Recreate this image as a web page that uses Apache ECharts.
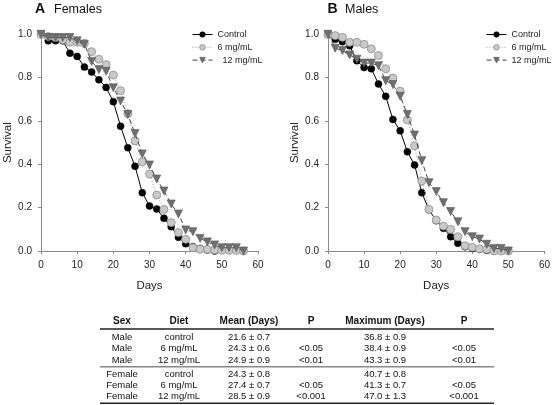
<!DOCTYPE html>
<html>
<head>
<meta charset="utf-8">
<script src="https://cdn.jsdelivr.net/npm/echarts@6/dist/echarts.min.js"></script>
<style>html,body{margin:0;padding:0;background:#fff}#c{width:553px;height:405px}</style>
</head>
<body>
<div id="c"></div>
<script>
// ---------- data ----------
const days = [0,2,4,6,8,10,12,14,16,18,20,22,24,26,28,30,32,34,36,38,40,42,44,46,48,50,52,54,56];
const seriesNames = ['Control','6 mg/mL','12 mg/mL'];
const xTicks = [0,10,20,30,40,50,60];
const yTicks = [0,0.2,0.4,0.6,0.8,1.0];

const femaleControl = [1.0,0.97,0.97,0.97,0.913,0.898,0.849,0.826,0.79,0.755,0.689,0.576,0.477,0.391,0.269,0.208,0.194,0.151,0.112,0.063,0.034,0.02,0.012,0.005,0.0];
const female6 = [1.0,0.99,0.985,0.975,0.963,0.963,0.958,0.92,0.885,0.86,0.812,0.74,0.634,0.508,0.411,0.355,0.258,0.192,0.131,0.085,0.054,0.015,0.008,0.008,0.005,0.003,0.003,0.003,0.0];
const female12 = [1.0,0.985,0.985,0.985,0.985,0.97,0.954,0.875,0.837,0.829,0.753,0.692,0.63,0.542,0.448,0.397,0.332,0.277,0.217,0.171,0.097,0.089,0.058,0.042,0.028,0.015,0.015,0.015,0.0];

const maleControl = [1.0,0.977,0.966,0.947,0.878,0.847,0.841,0.771,0.714,0.607,0.555,0.458,0.397,0.269,0.19,0.14,0.105,0.066,0.036,0.02,0.012,0.008,0.003,0.0];
const male6 = [1.0,0.994,0.986,0.963,0.963,0.954,0.933,0.902,0.841,0.798,0.737,0.605,0.485,0.323,0.192,0.143,0.115,0.10,0.066,0.024,0.017,0.01,0.008,0.0,0.0,0.0];
const male12 = [1.0,0.936,0.925,0.905,0.885,0.867,0.867,0.855,0.786,0.768,0.714,0.63,0.535,0.417,0.315,0.274,0.223,0.182,0.135,0.089,0.066,0.055,0.031,0.012,0.012,0.0];

const tableHeader = ['Sex','Diet','Mean (Days)','P','Maximum (Days)','P'];
const tableSex = ['Male','Male','Male','Female','Female','Female'];
const tableDiet = ['control','6 mg/mL','12 mg/mL','control','6 mg/mL','12 mg/mL'];
const tableMean = ['21.6 \u00b1 0.7','24.3 \u00b1 0.6','24.9 \u00b1 0.9','24.3 \u00b1 0.8','27.4 \u00b1 0.7','28.5 \u00b1 0.9'];
const tableP1 = ['','<0.05','<0.01','','<0.05','<0.001'];
const tableMax = ['36.8 \u00b1 0.9','38.4 \u00b1 0.9','43.3 \u00b1 0.9','40.7 \u00b1 0.8','41.3 \u00b1 0.7','47.0 \u00b1 1.3'];
const tableP2 = ['','<0.05','<0.01','','<0.05','<0.001'];

// ---------- layout / style ----------
const FONT = "'Liberation Sans', Arial, sans-serif";
const AX = '#8a8a8a';
const grids = [
  {left: 41, top: 34.3, width: 217, height: 216.7},
  {left: 328, top: 34.3, width: 217, height: 216.7}
];
const styles = [
  {symbol:'circle', symbolSize:7, rot:0, itemStyle:{color:'#000', borderColor:'#000', borderWidth:0.5}, lineStyle:{color:'#000', width:1, type:'solid'}},
  {symbol:'circle', symbolSize:8, rot:0, itemStyle:{color:'#c9c9c9', borderColor:'#8e8e8e', borderWidth:0.8}, lineStyle:{color:'#9a9a9a', width:1, type:[1,2]}},
  {symbol:'triangle', symbolSize:8, rot:180, itemStyle:{color:'#6f6f6f', borderColor:'#555', borderWidth:0.6}, lineStyle:{color:'#444', width:1, type:[5,3]}}
];

function pairs(vals){ return vals.map((v,i)=>[days[i], v]); }
function mkSeries(idx, vals, gi){
  const s = styles[idx];
  return {
    name: seriesNames[idx], type:'line', xAxisIndex:gi, yAxisIndex:gi,
    data: pairs(vals), symbol:s.symbol, symbolSize:s.symbolSize, symbolRotate:s.rot,
    showSymbol:true, itemStyle:s.itemStyle, lineStyle:s.lineStyle, animation:false, z: 2+idx
  };
}

function xAx(gi){
  return {
    gridIndex:gi, type:'value', min:0, max:60, interval:10,
    name:'Days', nameLocation:'middle', nameGap:29,
    nameTextStyle:{fontFamily:FONT, fontSize:11.5, color:'#222'},
    axisLine:{show:true, onZero:false, lineStyle:{color:AX, width:1}},
    axisTick:{show:true, length:3, lineStyle:{color:AX}},
    axisLabel:{fontFamily:FONT, fontSize:10, color:'#222', margin:9},
    splitLine:{show:false}
  };
}
function yAx(gi){
  return {
    gridIndex:gi, type:'value', min:0, max:1, interval:0.2,
    name:'Survival', nameLocation:'middle', nameGap:25, nameRotate:90,
    nameTextStyle:{fontFamily:FONT, fontSize:11.5, color:'#222'},
    axisLine:{show:true, lineStyle:{color:AX, width:1}},
    axisTick:{show:true, length:3, lineStyle:{color:AX}},
    axisLabel:{fontFamily:FONT, fontSize:10, color:'#222', margin:9, formatter:v=>v.toFixed(1)},
    splitLine:{show:false}
  };
}

function legend(left, fmt){
  return {
    show:true, orient:'vertical', left:left, top:25, itemWidth:20, itemHeight:7, itemGap:3.8,
    data: seriesNames.map((n,i)=>({
      name:n,
      lineStyle:{width:1, type:styles[i].lineStyle.type, color:styles[i].lineStyle.color},
      itemStyle:styles[i].itemStyle
    })),
    lineStyle:{width:1},
    textStyle:{fontFamily:FONT, fontSize:9, color:'#222'},
    formatter: fmt, selectedMode:false
  };
}

// ---------- table graphics ----------
const colX = [122, 179, 249, 311, 385, 464];
const headY = 321.7;
const rowY = [337.3, 348.3, 360, 374, 385.7, 396.7];
const tableGraphics = [];
tableHeader.forEach((h,i)=>{
  tableGraphics.push({type:'text', x:colX[i], y:headY, style:{text:h, font:"bold 10px "+FONT, fill:'#111', textAlign:'center', textVerticalAlign:'middle'}});
});
const cols = [tableSex, tableDiet, tableMean, tableP1, tableMax, tableP2];
cols.forEach((col,ci)=>{
  col.forEach((t,ri)=>{
    if(!t) return;
    tableGraphics.push({type:'text', x:colX[ci], y:rowY[ri], style:{text:t, font:"9.5px "+FONT, fill:'#111', textAlign:'center', textVerticalAlign:'middle'}});
  });
});
tableGraphics.push({type:'line', shape:{x1:100, y1:329, x2:494, y2:329}, style:{stroke:'#222', lineWidth:1.5}});
tableGraphics.push({type:'line', shape:{x1:100, y1:366.7, x2:494, y2:366.7}, style:{stroke:'#888', lineWidth:1.5}});
tableGraphics.push({type:'line', shape:{x1:100, y1:403.3, x2:494, y2:403.3}, style:{stroke:'#222', lineWidth:1.5}});

// titles
const titleGraphics = [
  {type:'text', x:35, y:9, style:{text:'A', font:"bold 14px "+FONT, fill:'#111', textVerticalAlign:'middle'}},
  {type:'text', x:54, y:9.5, style:{text:'Females', font:"12.5px "+FONT, fill:'#111', textVerticalAlign:'middle'}},
  {type:'text', x:327.5, y:9, style:{text:'B', font:"bold 14px "+FONT, fill:'#111', textVerticalAlign:'middle'}},
  {type:'text', x:345, y:9.5, style:{text:'Males', font:"12.5px "+FONT, fill:'#111', textVerticalAlign:'middle'}}
];

const chart = echarts.init(document.getElementById('c'), null, {renderer:'canvas'});
chart.setOption({
  animation:false,
  backgroundColor:'#fff',
  grid: grids,
  xAxis: [xAx(0), xAx(1)],
  yAxis: [yAx(0), yAx(1)],
  legend: [
    legend(187, n => n === '12 mg/mL' ? '  ' + n : n),
    legend(481, n => n)
  ],
  series: [
    mkSeries(0, femaleControl, 0), mkSeries(1, female6, 0), mkSeries(2, female12, 0),
    mkSeries(0, maleControl, 1), mkSeries(1, male6, 1), mkSeries(2, male12, 1)
  ],
  graphic: titleGraphics.concat(tableGraphics)
});
</script>
</body>
</html>
